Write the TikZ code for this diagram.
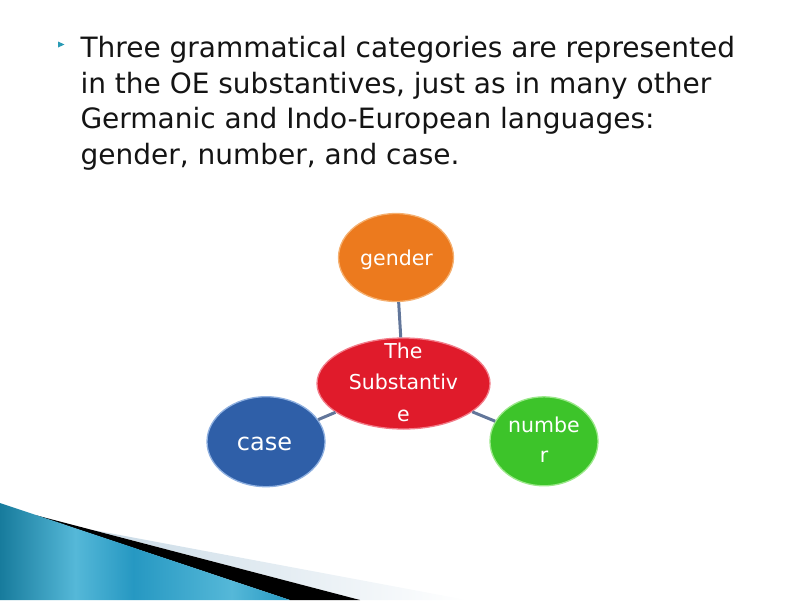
\documentclass[tikz,border=0pt]{standalone}
\usepackage{fontspec}
\setmainfont{DejaVu Sans}
\usetikzlibrary{shapes.geometric}
\definecolor{inkblack}{HTML}{141414}
\definecolor{bulletteal}{HTML}{2A9BB5}
\definecolor{linkgray}{HTML}{62769A}
\definecolor{tealdark}{HTML}{177B9C}
\definecolor{teallight}{HTML}{55B8D8}
\definecolor{tealmid}{HTML}{2698C2}
\definecolor{mistblue}{HTML}{C9DAE6}
\pgfdeclarehorizontalshading{tealband}{100bp}{color(0bp)=(tealdark); color(25bp)=(tealdark); color(38bp)=(teallight); color(48bp)=(tealmid); color(65bp)=(teallight); color(75bp)=(tealmid); color(100bp)=(tealmid)}
\tikzset{
every picture/.style={
line width=1pt
}}

\begin{document}
\begin{tikzpicture}[x=1pt, y=-1pt,
blob/.style = {ellipse, draw, line width=1.3pt, inner sep=0pt},
blobtext/.style = {text=white, align=center, inner sep=0pt, font=\fontsize{20.5}{31.5}\selectfont},
link/.style = {draw=linkgray, line width=3pt}]

\useasboundingbox (0,0) rectangle (800,600);

% bottom band
\shade[left color=mistblue, right color=white] (93,530) -- (467,600) -- (360,600) -- cycle;
\fill[black] (35,515) -- (360,600) -- (290,600) -- cycle;
\shade[shading=tealband] (0,503) -- (290,600) -- (0,600) -- cycle;

% bullet text
\fill[bulletteal] (58,41.5) -- (58,47.5) -- (64.5,44.5) -- cycle;
\node [anchor=north west, inner sep=0pt, align=left, text=inkblack, font=\fontsize{28}{35.5}\selectfont] (intro) at (80,36)
  {Three grammatical categories are represented\\ in the OE substantives, just as in many other\\ Germanic and Indo-European languages:\\ gender, number, and case.};

\node [blob, fill={rgb,255:red,236;green,122;blue,30}, draw={rgb,255:red,245;green,176;blue,112}, minimum width=115pt, minimum height=88pt] at (396,257.5) (gender) {};
\node [blob, fill={rgb,255:red,224;green,27;blue,43}, draw={rgb,255:red,242;green,125;blue,138}, minimum width=173pt, minimum height=91pt] at (403.5,383.5) (subst) {};
\node [blob, fill={rgb,255:red,47;green,95;blue,168}, draw={rgb,255:red,143;green,176;blue,224}, minimum width=118pt, minimum height=90pt] at (266,441.7) (case) {};
\node [blob, fill={rgb,255:red,61;green,196;blue,42}, draw={rgb,255:red,155;green,232;blue,138}, minimum width=108pt, minimum height=89pt] at (544,441.3) (number) {};

\node [blobtext, anchor=base] at (396.5,265) (gendertxt) {gender};
\node [blobtext] at (403.5,382) (substtxt) {The\\ Substantiv\\ e};
\node [blobtext, anchor=base, font=\fontsize{24}{28}\selectfont] at (264.5,450) (casetxt) {case};
\node [blobtext, font=\fontsize{20.5}{30}\selectfont] at (544,440.2) (numbertxt) {numbe\\ r};

\draw[link] (gender) -- (subst);
\draw[link] (case) -- (subst);
\draw[link] (number) -- (subst);

\end{tikzpicture}
\end{document}
